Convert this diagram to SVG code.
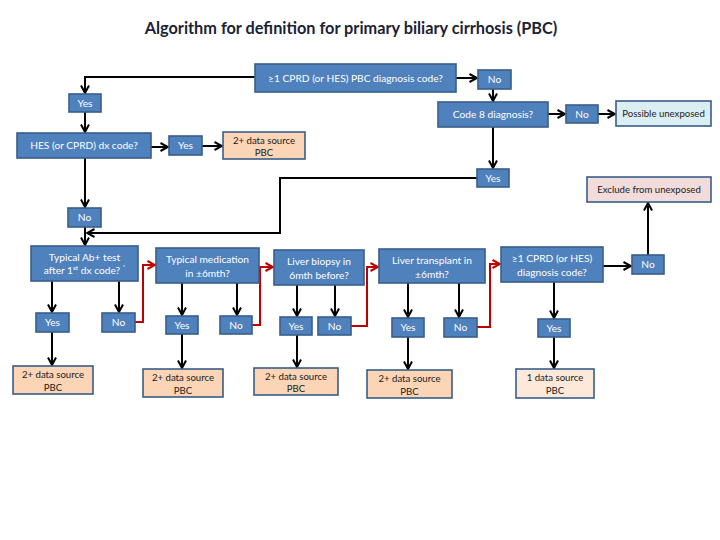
<svg xmlns="http://www.w3.org/2000/svg" width="720" height="540" viewBox="0 0 720 540">
<style>
.b{fill:#4f81bd;stroke:#385d8a;stroke-width:1.6}
.p{fill:#fbd5b5;stroke:#385d8a;stroke-width:1.6}
.lp{fill:#fde9d9;stroke:#385d8a;stroke-width:1.6}
.lb{fill:#dbeef4;stroke:#385d8a;stroke-width:1.6}
.pk{fill:#f2dcdb;stroke:#385d8a;stroke-width:1.6}
.t{font-family:Lato,"Liberation Sans",sans-serif;font-size:10.2px;fill:#ffffff;text-anchor:middle}
.d{font-family:Lato,"Liberation Sans",sans-serif;font-size:9.6px;fill:#1a1a1a;text-anchor:middle}
.k{fill:none;stroke:#000;stroke-width:2}
.r{fill:none;stroke:#c00000;stroke-width:2}
.title{font-family:Lato,"Liberation Sans",sans-serif;font-size:16.3px;font-weight:bold;fill:#1a2333;text-anchor:middle}
</style>
<defs>
<marker id="ak" viewBox="0 0 10 10" refX="9" refY="5" markerWidth="10" markerHeight="10" markerUnits="userSpaceOnUse" orient="auto">
<path d="M1.5,1 L9,5 L1.5,9" fill="none" stroke="#000" stroke-width="2"/>
</marker>
<marker id="ar" viewBox="0 0 10 10" refX="9" refY="5" markerWidth="10" markerHeight="10" markerUnits="userSpaceOnUse" orient="auto">
<path d="M1.5,1 L9,5 L1.5,9" fill="none" stroke="#c00000" stroke-width="2"/>
</marker>
</defs>
<rect width="720" height="540" fill="#ffffff"/>
<text class="title" x="351" y="34">Algorithm for definition for primary biliary cirrhosis (PBC)</text>

<g id="connectors">
<path class="k" d="M255,77 H85 V93" marker-end="url(#ak)"/>
<path class="k" d="M456,78 H477" marker-end="url(#ak)"/>
<path class="k" d="M493,89 V101" marker-end="url(#ak)"/>
<path class="k" d="M548,114 H565" marker-end="url(#ak)"/>
<path class="k" d="M598,114 H615" marker-end="url(#ak)"/>
<path class="k" d="M493,127 V168" marker-end="url(#ak)"/>
<path class="k" d="M85,112 V132" marker-end="url(#ak)"/>
<path class="k" d="M151,147 H168" marker-end="url(#ak)"/>
<path class="k" d="M202,146 H222" marker-end="url(#ak)"/>
<path class="k" d="M85,158 V207" marker-end="url(#ak)"/>
<path class="k" d="M477,178 H280 V233 H87" marker-end="url(#ak)"/>
<path class="k" d="M85,227 V245" marker-end="url(#ak)"/>
<path class="k" d="M52,281 V312" marker-end="url(#ak)"/>
<path class="k" d="M119,281 V312" marker-end="url(#ak)"/>
<path class="k" d="M52,332 V365" marker-end="url(#ak)"/>
<path class="k" d="M182,283 V315" marker-end="url(#ak)"/>
<path class="k" d="M237,283 V315" marker-end="url(#ak)"/>
<path class="k" d="M182,334 V368" marker-end="url(#ak)"/>
<path class="k" d="M297,285 V316" marker-end="url(#ak)"/>
<path class="k" d="M335,285 V316" marker-end="url(#ak)"/>
<path class="k" d="M297,335 V367" marker-end="url(#ak)"/>
<path class="k" d="M408,283 V317" marker-end="url(#ak)"/>
<path class="k" d="M459,283 V317" marker-end="url(#ak)"/>
<path class="k" d="M408,337 V369" marker-end="url(#ak)"/>
<path class="k" d="M554,282 V318" marker-end="url(#ak)"/>
<path class="k" d="M554,337 V368" marker-end="url(#ak)"/>
<path class="k" d="M603,266 H631" marker-end="url(#ak)"/>
<path class="k" d="M648,255 V203" marker-end="url(#ak)"/>
<path class="r" d="M135,322 H143 V265 H155" marker-end="url(#ar)"/>
<path class="r" d="M252,325 H260 V267 H273" marker-end="url(#ar)"/>
<path class="r" d="M351,326 H367 V267 H378" marker-end="url(#ar)"/>
<path class="r" d="M477,327 H490 V264 H500" marker-end="url(#ar)"/>
</g>

<g id="q-cprd-top"><rect class="b" x="255" y="64" width="201" height="28"/><text class="t" x="355.5" y="81.5">≥1 CPRD (or HES) PBC diagnosis code?</text></g>
<g id="no-top"><rect class="b" x="478" y="70" width="33" height="19"/><text class="t" x="494.5" y="83">No</text></g>
<g id="q-code8"><rect class="b" x="438" y="102" width="110" height="25"/><text class="t" x="493" y="118">Code 8 diagnosis?</text></g>
<g id="no-code8"><rect class="b" x="566" y="105" width="32" height="18"/><text class="t" x="582" y="117.5">No</text></g>
<g id="possible-unexposed"><rect class="lb" x="616" y="101" width="95" height="25"/><text class="d" x="663.5" y="117">Possible unexposed</text></g>
<g id="yes-code8"><rect class="b" x="477" y="169" width="32" height="18"/><text class="t" x="493" y="181.5">Yes</text></g>
<g id="yes-top"><rect class="b" x="69" y="94" width="32" height="18"/><text class="t" x="85" y="106.5">Yes</text></g>
<g id="q-hes"><rect class="b" x="17" y="133" width="134" height="25"/><text class="t" x="84" y="149">HES (or CPRD) dx code?</text></g>
<g id="yes-hes"><rect class="b" x="169" y="136" width="33" height="19"/><text class="t" x="185.5" y="149">Yes</text></g>
<g id="pbc-hes"><rect class="p" x="223" y="132" width="82" height="27"/><text class="d" x="264" y="144">2+ data source</text><text class="d" x="264" y="156">PBC</text></g>
<g id="no-hes"><rect class="b" x="68" y="208" width="33" height="19"/><text class="t" x="84.5" y="221">No</text></g>
<g id="exclude"><rect class="pk" x="587" y="177" width="124" height="25"/><text class="d" x="649" y="193">Exclude from unexposed</text></g>

<g id="q-ab"><rect class="b" x="31" y="246" width="107" height="35"/><text class="t" x="84.5" y="261">Typical Ab+ test</text><text class="t" x="84.5" y="274">after 1<tspan font-size="6.5" dy="-4">st</tspan><tspan dy="4"> dx code? </tspan><tspan font-size="6" dy="-5">*</tspan></text></g>
<g id="yes-ab"><rect class="b" x="36" y="313" width="33" height="19"/><text class="t" x="52.5" y="326">Yes</text></g>
<g id="no-ab"><rect class="b" x="102" y="313" width="33" height="19"/><text class="t" x="118.5" y="326">No</text></g>
<g id="pbc-ab"><rect class="p" x="13" y="366" width="80" height="28"/><text class="d" x="53" y="378">2+ data source</text><text class="d" x="53" y="390.5">PBC</text></g>

<g id="q-med"><rect class="b" x="156" y="248" width="103" height="35"/><text class="t" x="207.5" y="263">Typical medication</text><text class="t" x="207.5" y="276.5">in ±6mth?</text></g>
<g id="yes-med"><rect class="b" x="166" y="316" width="32" height="18"/><text class="t" x="182" y="328.5">Yes</text></g>
<g id="no-med"><rect class="b" x="220" y="316" width="32" height="18"/><text class="t" x="236" y="328.5">No</text></g>
<g id="pbc-med"><rect class="p" x="143" y="369" width="80" height="28"/><text class="d" x="183" y="381">2+ data source</text><text class="d" x="183" y="393.5">PBC</text></g>

<g id="q-biopsy"><rect class="b" x="274" y="250" width="90" height="35"/><text class="t" x="319" y="265">Liver biopsy in</text><text class="t" x="319" y="278.5">6mth before?</text></g>
<g id="yes-biopsy"><rect class="b" x="280" y="317" width="32" height="18"/><text class="t" x="296" y="329.5">Yes</text></g>
<g id="no-biopsy"><rect class="b" x="318" y="317" width="33" height="18"/><text class="t" x="334.5" y="329.5">No</text></g>
<g id="pbc-biopsy"><rect class="p" x="254" y="368" width="84" height="27"/><text class="d" x="296" y="380">2+ data source</text><text class="d" x="296" y="392">PBC</text></g>

<g id="q-transplant"><rect class="b" x="379" y="249" width="106" height="34"/><text class="t" x="432" y="264">Liver transplant in</text><text class="t" x="432" y="277.5">±6mth?</text></g>
<g id="yes-transplant"><rect class="b" x="392" y="318" width="32" height="19"/><text class="t" x="408" y="331">Yes</text></g>
<g id="no-transplant"><rect class="b" x="444" y="318" width="33" height="19"/><text class="t" x="460.5" y="331">No</text></g>
<g id="pbc-transplant"><rect class="p" x="367" y="370" width="85" height="28"/><text class="d" x="409.5" y="382">2+ data source</text><text class="d" x="409.5" y="394.5">PBC</text></g>

<g id="q-cprd"><rect class="b" x="501" y="247" width="102" height="35"/><text class="t" x="552" y="262">≥1 CPRD (or HES)</text><text class="t" x="552" y="275.5">diagnosis code?</text></g>
<g id="no-cprd"><rect class="b" x="632" y="255" width="32" height="19"/><text class="t" x="648" y="268">No</text></g>
<g id="yes-cprd"><rect class="b" x="538" y="319" width="32" height="18"/><text class="t" x="554" y="331.5">Yes</text></g>
<g id="pbc-cprd"><rect class="lp" x="516" y="369" width="78" height="29"/><text class="d" x="555" y="381">1 data source</text><text class="d" x="555" y="394">PBC</text></g>
</svg>
